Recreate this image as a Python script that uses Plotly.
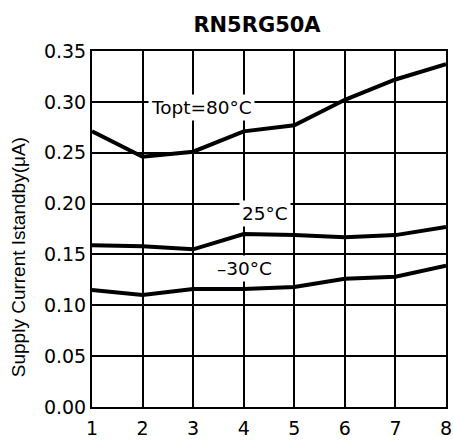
import plotly.graph_objects as go

x_vals = [1, 2, 3, 4, 5, 6, 7, 8]
t80 = [0.271, 0.246, 0.251, 0.271, 0.277, 0.302, 0.322, 0.337]
t25 = [0.159, 0.158, 0.155, 0.170, 0.169, 0.167, 0.169, 0.177]
tm30 = [0.115, 0.110, 0.116, 0.116, 0.118, 0.126, 0.128, 0.139]
series_names = ["Topt=80°C", "25°C", "–30°C"]
label_pos = [(3.17, 0.294), (4.42, 0.190), (4.02, 0.136)]

font = "DejaVu Sans, sans-serif"
W, H = 453, 442
fig = go.Figure()
for name, ys in zip(series_names, [t80, t25, tm30]):
    fig.add_trace(go.Scatter(x=x_vals, y=ys, mode="lines", name=name,
                             line=dict(color="black", width=4), showlegend=False))

for name, (lx, ly) in zip(series_names, label_pos):
    fig.add_annotation(x=lx, y=ly, text=name, showarrow=False, bgcolor="white",
                       font=dict(family=font, size=18.5, color="black"), borderpad=2)

fig.add_annotation(xref="paper", yref="paper", x=-0.207, y=0.42, text="Supply Current Istandby(μA)",
                   textangle=-90, showarrow=False, xanchor="center", yanchor="middle",
                   font=dict(family="Liberation Sans, Arial, sans-serif", size=19, color="black"))

fig.update_layout(
    width=W, height=H,
    margin=dict(l=92, r=7, t=51, b=35),
    paper_bgcolor="white", plot_bgcolor="white",
    title=dict(text="<b>RN5RG50A</b>", x=257 / W, xanchor="center", y=1 - 25 / H,
               yanchor="middle", font=dict(family=font, size=21, color="black")),
    font=dict(family=font, color="black"),
)
fig.update_xaxes(range=[1, 8], dtick=1, tick0=1, showgrid=True, gridcolor="black", gridwidth=1.5,
                 showline=True, linecolor="black", linewidth=2, mirror=True, zeroline=False,
                 automargin=False, ticks="", ticklabelstandoff=3, ticklabeloverflow="allow",
                 tickfont=dict(size=19, family=font, color="black"))
fig.update_yaxes(range=[0, 0.35], dtick=0.05, tickformat=".2f", showgrid=True, gridcolor="black",
                 gridwidth=1.5, showline=True, linecolor="black", linewidth=2, mirror=True,
                 zeroline=False, automargin=False, ticks="", ticklabelstandoff=0,
                 ticklabeloverflow="allow",
                 tickfont=dict(size=19, family=font, color="black"))
fig.write_html("out.html", config={"displayModeBar": False},
               post_script="document.body.style.margin='0';document.body.style.overflow='hidden';")
